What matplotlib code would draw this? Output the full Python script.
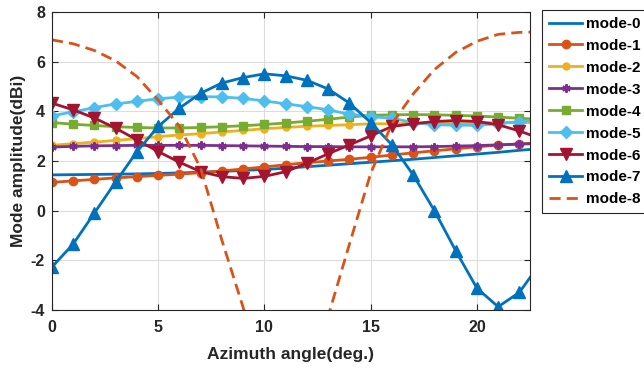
import matplotlib
matplotlib.use("Agg")
import matplotlib.pyplot as plt
import numpy as np

plt.rcParams['font.family'] = ['Liberation Sans', 'DejaVu Sans']
plt.rcParams['font.weight'] = 'bold'
plt.rcParams['axes.unicode_minus'] = False

angle = list(range(0, 24))

mode0 = [1.44, 1.45, 1.46, 1.47, 1.48, 1.50, 1.52, 1.55, 1.58, 1.62, 1.66, 1.71,
         1.77, 1.83, 1.89, 1.95, 2.01, 2.07, 2.14, 2.21, 2.28, 2.35, 2.43, 2.50]
mode1 = [1.14, 1.20, 1.26, 1.32, 1.37, 1.42, 1.47, 1.53, 1.60, 1.68, 1.76, 1.85,
         1.93, 2.00, 2.07, 2.15, 2.24, 2.33, 2.41, 2.49, 2.57, 2.64, 2.69, 2.73]
mode2 = [2.63, 2.70, 2.76, 2.83, 2.90, 2.98, 3.05, 3.10, 3.17, 3.23, 3.30, 3.35,
         3.40, 3.43, 3.46, 3.50, 3.50, 3.52, 3.53, 3.54, 3.55, 3.55, 3.55, 3.55]
mode3 = [2.56, 2.59, 2.61, 2.62, 2.63, 2.63, 2.63, 2.63, 2.62, 2.61, 2.60, 2.59,
         2.58, 2.58, 2.57, 2.57, 2.57, 2.57, 2.58, 2.60, 2.62, 2.65, 2.68, 2.70]
mode4 = [3.55, 3.48, 3.43, 3.38, 3.35, 3.33, 3.33, 3.35, 3.38, 3.42, 3.47, 3.53,
         3.60, 3.68, 3.77, 3.84, 3.86, 3.87, 3.86, 3.84, 3.81, 3.77, 3.72, 3.68]
mode5 = [3.82, 3.98, 4.15, 4.30, 4.40, 4.51, 4.57, 4.59, 4.58, 4.52, 4.42, 4.30,
         4.19, 4.06, 3.88, 3.79, 3.72, 3.55, 3.46, 3.44, 3.44, 3.50, 3.59, 3.65]
mode6 = [4.33, 4.06, 3.73, 3.32, 2.85, 2.38, 1.95, 1.57, 1.37, 1.30, 1.38, 1.57,
         1.91, 2.29, 2.65, 3.01, 3.39, 3.50, 3.59, 3.63, 3.59, 3.46, 3.21, 2.90]
mode7 = [-2.27, -1.34, -0.09, 1.16, 2.38, 3.39, 4.13, 4.73, 5.14, 5.36, 5.51, 5.43,
         5.25, 4.90, 4.33, 3.55, 2.65, 1.44, 0.00, -1.61, -3.12, -3.87, -3.29, -2.10]
mode8 = [6.88, 6.72, 6.45, 6.03, 5.40, 4.45, 3.40, 1.70, -1.20, -3.90, -7.00, -8.50,
         -7.50, -4.25, -1.35, 1.50, 3.50, 4.70, 5.68, 6.37, 6.82, 7.10, 7.18, 7.20]

labels = ['mode-0', 'mode-1', 'mode-2', 'mode-3', 'mode-4', 'mode-5', 'mode-6', 'mode-7', 'mode-8']
colors = ['#0072BD', '#D95319', '#EDB120', '#7E2F8E', '#77AC30', '#4DBEEE', '#A2142F', '#0072BD', '#D95319']
markers = [None, 'o', 'o', (6, 2, 0), 's', 'D', 'v', '^', None]
msizes = [0, 6, 5, 6, 6, 6, 8, 8, 0]
styles = ['-', '-', '-', '-', '-', '-', '-', '-', '--']
series = [mode0, mode1, mode2, mode3, mode4, mode5, mode6, mode7, mode8]

fig = plt.figure(figsize=(6.44, 3.68), dpi=100)
ax = fig.add_axes([0.0807, 0.1576, 0.7423, 0.8098])

for y, lab, c, m, ms, ls in zip(series, labels, colors, markers, msizes, styles):
    kw = dict(color=c, lw=2, ls=ls, label=lab)
    if ls == '--':
        kw['dashes'] = (4, 2.2)
    if m is not None:
        kw.update(marker=m, markersize=ms, markerfacecolor=c, markeredgecolor=c,
                  markeredgewidth=1.5 if m == (6, 2, 0) else 1)
    ax.plot(angle, y, **kw)

ax.set_xlim(0, 22.5)
ax.set_ylim(-4, 8)
ax.set_xticks([0, 5, 10, 15, 20])
ax.set_yticks([-4, -2, 0, 2, 4, 6, 8])
ax.grid(True, color='#dcdcdc', lw=0.8)
ax.set_axisbelow(True)
ax.tick_params(direction='in', top=True, right=True, labelsize=11.5, colors='#262626',
               length=4, width=0.8, pad=5)
ax.tick_params(axis='x', pad=7)
for lab in ax.get_xticklabels() + ax.get_yticklabels():
    lab.set_fontweight('bold')
for s in ax.spines.values():
    s.set_color('#262626')
    s.set_linewidth(0.8)
ax.set_xlabel('Azimuth angle(deg.)', fontsize=12.5, fontweight='bold', color='#262626', labelpad=9)
ax.set_ylabel('Mode amplitude(dBi)', fontsize=12.5, fontweight='bold', color='#262626', labelpad=3)

leg = fig.legend(loc='upper left', bbox_to_anchor=(542 / 644, 1 - 10 / 368), fontsize=11,
                 frameon=True, fancybox=False, edgecolor='#262626', framealpha=1,
                 handlelength=2.2, handletextpad=0.2, labelspacing=0.52, borderpad=0.45,
                 borderaxespad=0)
leg.get_frame().set_linewidth(0.8)
for t in leg.get_texts():
    t.set_fontweight('bold')

fig.savefig('out.png', dpi=100)
